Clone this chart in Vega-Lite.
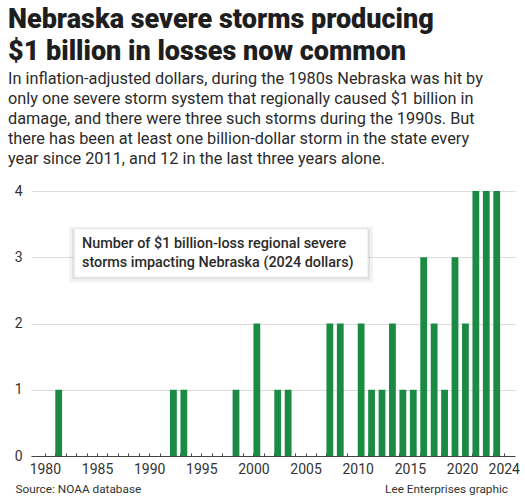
{
  "$schema": "https://vega.github.io/schema/vega-lite/v6.json",
  "width": 484,
  "height": 265,
  "autosize": "none",
  "padding": {"left": 31, "top": 191, "right": 10, "bottom": 44},
  "background": "white",
  "config": {"view": {"stroke": null}, "font": "Roboto"},
  "title": {
    "text": ["Nebraska severe storms producing", "$1 billion in losses now common"],
    "subtitle": [
      "In inflation-adjusted dollars, during the 1980s Nebraska was hit by",
      "only one severe storm system that regionally caused $1 billion in",
      "damage, and there were three such storms during the 1990s. But",
      "there has been at least one billion-dollar storm in the state every",
      "year since 2011, and 12 in the last three years alone."
    ],
    "anchor": "start",
    "frame": "group",
    "dx": -23,
    "offset": 16,
    "font": "Roboto",
    "fontSize": 27,
    "fontWeight": 900,
    "lineHeight": 32,
    "color": "#1e1e1e",
    "subtitleFont": "Roboto",
    "subtitleFontSize": 16.3,
    "subtitleLineHeight": 20,
    "subtitleColor": "#2b2b2b",
    "subtitlePadding": 5
  },
  "resolve": {"axis": {"x": "independent"}},
  "layer": [
    {
      "data": {"values": [
        {"year": 1981, "storms": 1},
        {"year": 1992, "storms": 1},
        {"year": 1993, "storms": 1},
        {"year": 1998, "storms": 1},
        {"year": 2000, "storms": 2},
        {"year": 2002, "storms": 1},
        {"year": 2003, "storms": 1},
        {"year": 2007, "storms": 2},
        {"year": 2008, "storms": 2},
        {"year": 2010, "storms": 2},
        {"year": 2011, "storms": 1},
        {"year": 2012, "storms": 1},
        {"year": 2013, "storms": 2},
        {"year": 2014, "storms": 1},
        {"year": 2015, "storms": 1},
        {"year": 2016, "storms": 3},
        {"year": 2017, "storms": 2},
        {"year": 2018, "storms": 1},
        {"year": 2019, "storms": 3},
        {"year": 2020, "storms": 2},
        {"year": 2021, "storms": 4},
        {"year": 2022, "storms": 4},
        {"year": 2023, "storms": 4}
      ]},
      "mark": {"type": "bar", "size": 6.8, "xOffset": 3.4, "color": "#1b8a43"},
      "encoding": {
        "x": {
          "field": "year", "type": "quantitative",
          "scale": {"domain": [1979.15, 2024.6], "nice": false, "zero": false},
          "axis": {
            "title": null,
            "orient": "bottom",
            "values": [1980,1981,1982,1983,1984,1985,1986,1987,1988,1989,1990,1991,1992,1993,1994,1995,1996,1997,1998,1999,2000,2001,2002,2003,2004,2005,2006,2007,2008,2009,2010,2011,2012,2013,2014,2015,2016,2017,2018,2019,2020,2021,2022,2023,2024],
            "labels": false,
            "grid": false,
            "domainColor": "#444",
            "tickColor": "#444",
            "tickSize": -3
          }
        },
        "y": {
          "field": "storms", "type": "quantitative",
          "scale": {"domain": [0, 4], "nice": false},
          "axis": {
            "title": null,
            "values": [0, 1, 2, 3, 4],
            "format": "d",
            "domain": false,
            "ticks": false,
            "gridColor": "#dcdcdc",
            "labelPadding": 9,
            "labelFontSize": 14,
            "labelColor": "#333"
          }
        }
      }
    },
    {
      "data": {"values": [{}]},
      "mark": {"type": "rect", "fill": "white", "stroke": "#000", "strokeOpacity": 0.05, "strokeWidth": 10, "yOffset": 3},
      "encoding": {
        "x": {"datum": 1982.81, "type": "quantitative", "axis": {
          "title": null,
          "orient": "bottom",
          "values": [1980, 1985, 1990, 1995, 2000, 2005, 2010, 2015, 2020, 2024],
          "format": "d",
          "domain": false,
          "ticks": false,
          "grid": false,
          "labelPadding": 6,
          "labelFontSize": 14,
          "labelColor": "#333",
          "labelOverlap": false,
          "labelFlush": false
        }},
        "x2": {"datum": 2010.98},
        "y": {"datum": 3.43, "type": "quantitative"},
        "y2": {"datum": 2.70}
      }
    },
    {
      "data": {"values": [{}]},
      "mark": {"type": "rect", "fill": "white", "stroke": "#000", "strokeOpacity": 0.08, "strokeWidth": 4, "yOffset": 2},
      "encoding": {
        "x": {"datum": 1982.81, "type": "quantitative", "axis": null},
        "x2": {"datum": 2010.98},
        "y": {"datum": 3.43, "type": "quantitative"},
        "y2": {"datum": 2.70}
      }
    },
    {
      "data": {"values": [{}]},
      "mark": {"type": "rect", "fill": "white", "stroke": "#e4e4e4", "strokeWidth": 1},
      "encoding": {
        "x": {"datum": 1982.81, "type": "quantitative", "axis": null},
        "x2": {"datum": 2010.98},
        "y": {"datum": 3.43, "type": "quantitative"},
        "y2": {"datum": 2.70}
      }
    },
    {
      "data": {"values": [{"note": "Number of $1 billion-loss regional severe\nstorms impacting Nebraska (2024 dollars)"}]},
      "mark": {"type": "text", "align": "left", "baseline": "alphabetic", "lineBreak": "\n", "lineHeight": 19, "fontSize": 14.4, "fontWeight": 500, "color": "#2b2b2b"},
      "encoding": {
        "x": {"datum": 1983.56, "type": "quantitative", "axis": null},
        "y": {"datum": 3.14, "type": "quantitative"},
        "text": {"field": "note"}
      }
    },
    {
      "data": {"values": [{"credit": "Source: NOAA database"}]},
      "mark": {"type": "text", "align": "left", "baseline": "alphabetic", "fontSize": 11.8, "color": "#333"},
      "encoding": {
        "x": {"datum": 1977.18, "type": "quantitative", "axis": null},
        "y": {"datum": -0.56, "type": "quantitative"},
        "text": {"field": "credit"}
      }
    },
    {
      "data": {"values": [{"credit": "Lee Enterprises graphic"}]},
      "mark": {"type": "text", "align": "right", "baseline": "alphabetic", "fontSize": 11.8, "color": "#333"},
      "encoding": {
        "x": {"datum": 2024.41, "type": "quantitative", "axis": null},
        "y": {"datum": -0.56, "type": "quantitative"},
        "text": {"field": "credit"}
      }
    }
  ]
}
